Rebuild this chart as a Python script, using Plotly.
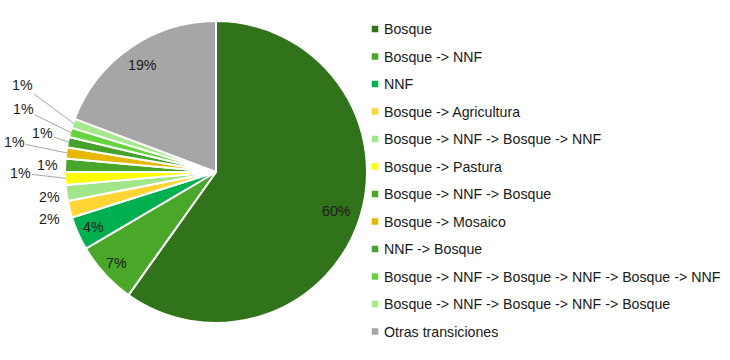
import math
import plotly.graph_objects as go

# ---------------- data ----------------
categories = [
    "Bosque",
    "Bosque -> NNF",
    "NNF",
    "Bosque -> Agricultura",
    "Bosque -> NNF -> Bosque -> NNF",
    "Bosque -> Pastura",
    "Bosque -> NNF -> Bosque",
    "Bosque -> Mosaico",
    "NNF -> Bosque",
    "Bosque -> NNF -> Bosque -> NNF -> Bosque -> NNF",
    "Bosque -> NNF -> Bosque -> NNF -> Bosque",
    "Otras transiciones",
]
values = [59.9, 6.7, 3.6, 1.8, 1.7, 1.4, 1.4, 1.2, 1.1, 1.0, 1.0, 19.3]
colors = [
    "#31731A", "#4AA829", "#00B050", "#FFD535", "#A2E68C", "#FFFF00",
    "#48A72A", "#E6B800", "#45A22B", "#66D43E", "#A5E88E", "#A6A6A6",
]

# ---------------- layout settings ----------------
W, H = 730, 360
CX, CY, R = 216, 172, 151          # pie centre / radius in pixels
FONT = "Liberation Sans, Arial, sans-serif"
FS = 14.2
TXT = "#1a1a1a"

# radial position (fraction of radius) for labels drawn inside slices
inside_r = {0: 0.84, 1: 0.89, 2: 0.89, 11: 0.86}
# label centres (pixels) for small slices drawn outside; True = leader line
outside_pos = {
    3: (49, 219, False),
    4: (49, 197, False),
    5: (20, 173, True),
    6: (47, 165, False),
    7: (14, 142, True),
    8: (42, 133, True),
    9: (23, 109, True),
    10: (22, 85, True),
}
LEG_X, LEG_Y0, LEG_DY, SQ = 375, 29, 27.5, 6.5


def px(x):
    return x / W


def py(y):
    return 1 - y / H


fig = go.Figure(
    go.Pie(
        labels=categories,
        values=values,
        sort=False,
        direction="clockwise",
        rotation=0,
        marker=dict(colors=colors, line=dict(color="white", width=2)),
        textinfo="none",
        hoverinfo="label+percent",
        showlegend=False,
        domain=dict(x=[px(CX - R), px(CX + R)], y=[py(CY + R), py(CY - R)]),
    )
)

annotations = []
shapes = []
total = sum(values)
cum = 0.0
for i, v in enumerate(values):
    mid = (cum + v / 2) / total
    cum += v
    theta = 2 * math.pi * mid
    dx, dy = math.sin(theta), -math.cos(theta)
    txt = f"{round(v / total * 100)}%"
    if i in inside_r:
        rr = inside_r[i] * R
        annotations.append(dict(
            x=px(CX + dx * rr), y=py(CY + dy * rr), xref="paper", yref="paper",
            xanchor="center", yanchor="middle",
            text=txt, showarrow=False, font=dict(family=FONT, size=FS, color=TXT),
        ))
    else:
        lx, ly, line = outside_pos[i]
        if line:
            tx, ty = CX + dx * (R - 1), CY + dy * (R - 1)
            annotations.append(dict(
                x=px(tx), y=py(ty), xref="paper", yref="paper",
                ax=lx - tx, ay=ly - ty, axref="pixel", ayref="pixel",
                text=txt, showarrow=True, arrowhead=0, arrowwidth=1,
                arrowcolor="#A6A6A6", standoff=0,
                font=dict(family=FONT, size=FS, color=TXT),
            ))
        else:
            annotations.append(dict(
                x=px(lx), y=py(ly), xref="paper", yref="paper",
                xanchor="center", yanchor="middle",
                text=txt, showarrow=False, font=dict(family=FONT, size=FS, color=TXT),
            ))

# manual legend
for i, (name, col) in enumerate(zip(categories, colors)):
    yc = LEG_Y0 + i * LEG_DY
    shapes.append(dict(
        type="rect", xref="paper", yref="paper",
        x0=px(LEG_X - SQ / 2), x1=px(LEG_X + SQ / 2),
        y0=py(yc + SQ / 2), y1=py(yc - SQ / 2),
        fillcolor=col, line=dict(width=0),
    ))
    annotations.append(dict(
        x=px(LEG_X + 7), y=py(yc), xref="paper", yref="paper",
        xanchor="left", yanchor="middle", text=name, showarrow=False,
        font=dict(family=FONT, size=FS, color=TXT),
    ))

fig.update_layout(
    width=W, height=H, autosize=False,
    margin=dict(l=0, r=0, t=0, b=0),
    paper_bgcolor="white", plot_bgcolor="white",
    annotations=annotations, shapes=shapes,
    font=dict(family=FONT, size=FS),
)

fig.write_html(
    "out.html",
    config=dict(displayModeBar=False),
    post_script="document.body.style.margin='0';document.body.style.padding='0';"
                "document.body.style.overflow='hidden';",
)
